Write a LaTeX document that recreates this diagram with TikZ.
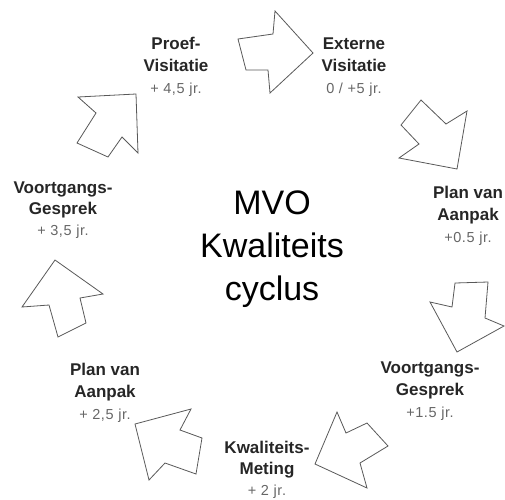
\documentclass[tikz,border=0pt]{standalone}
\usepackage{fontspec}
\setmainfont{Liberation Sans}
\tikzset{
  arrowshape/.style={draw=black!65, line width=0.8pt, fill=white, line join=miter},
  lbl/.style={align=center, font=\fontsize{17}{22}\selectfont\bfseries, text=black!85, inner sep=0pt},
  ctr/.style={align=center, font=\fontsize{34}{43}\selectfont, text=black, inner sep=0pt},
}
\newcommand\subtxt[1]{{\fontsize{14.5}{22}\selectfont\mdseries\addfontfeature{LetterSpace=4}\color{black!60}#1}}
\begin{document}
\begin{tikzpicture}[x=1pt,y=-1pt]
\useasboundingbox (0,0) rectangle (505,499);
% arrows
\draw[arrowshape] (238,39) -- (273,34) -- (275,11) -- (313,53) -- (270,93) -- (268,70) -- (246,70) -- cycle;
\draw[arrowshape] (421,100) -- (446,124) -- (467,111) -- (457,169) -- (399,158) -- (419,144) -- (401,125) -- cycle;
\draw[arrowshape] (455,283) -- (488,282) -- (485,318) -- (504,326) -- (457,352) -- (430,302) -- (452,307) -- cycle;
\draw[arrowshape] (337,412) -- (346,433) -- (367,423) -- (388,446) -- (360,463) -- (367,488) -- (315,464) -- cycle;
\draw[arrowshape] (135,424) -- (191,409) -- (180,430) -- (202,438) -- (196,474) -- (165,463) -- (149,480) -- cycle;
\draw[arrowshape] (55,260) -- (103,294) -- (80,298) -- (86,323) -- (58,337) -- (49,305) -- (22,307) -- cycle;
\draw[arrowshape] (78,97) -- (136,94) -- (138,153) -- (122,137) -- (108,157) -- (77,143) -- (96,113) -- cycle;
% labels
\node[lbl] (proef) at (176,67) {Proef-\\Visitatie\\\subtxt{+ 4,5 jr.}};
\node[lbl] (extern) at (354,67) {Externe\\Visitatie\\\subtxt{0 / +5 jr.}};
\node[lbl] (planR) at (468,216) {Plan van\\Aanpak\\\subtxt{+0.5 jr.}};
\node[lbl] (voortR) at (430,391) {Voortgangs-\\Gesprek\\\subtxt{+1.5 jr.}};
\node[lbl, font=\fontsize{17}{21}\selectfont\bfseries] (meting) at (267,470) {Kwaliteits-\\Meting\\\subtxt{+ 2 jr.}};
\node[lbl] (planL) at (105,393) {Plan van\\Aanpak\\\subtxt{+ 2,5 jr.}};
\node[lbl, font=\fontsize{17}{21}\selectfont\bfseries] (voortL) at (63,210) {Voortgangs-\\Gesprek\\\subtxt{+ 3,5 jr.}};
\node[ctr] (center) at (272,249) {MVO\\Kwaliteits\\cyclus};
\end{tikzpicture}
\end{document}
